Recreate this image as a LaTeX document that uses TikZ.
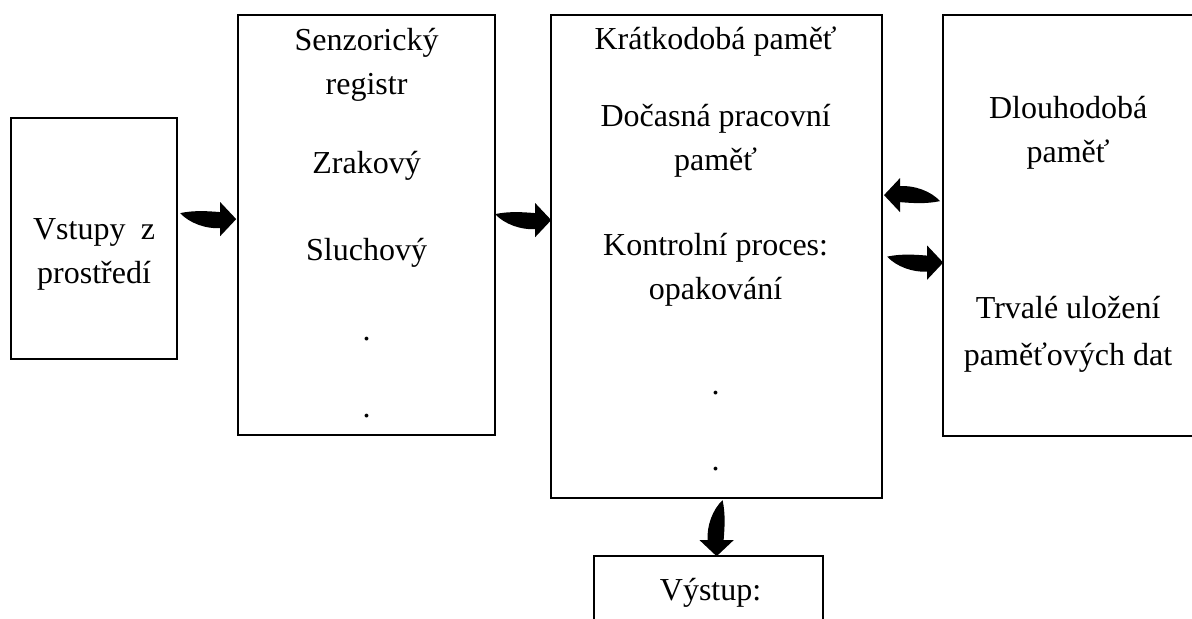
\documentclass[tikz,border=0pt]{standalone}
\usepackage{fontspec}
\setmainfont{Liberation Serif}
\usetikzlibrary{calc}
\newcommand{\spread}[3]{\hbox to #1{#2\hfill #3}}

\begin{document}
\begin{tikzpicture}[x=0.5pt, y=-0.5pt]
\tikzstyle{box}=[draw, line width=1.1pt, anchor=north west, inner sep=0pt]
\tikzstyle{txt}=[font=\fontsize{16}{20}\selectfont, inner sep=0pt, text height=0.7em, text depth=0.2em]
\tikzset{bentarrow/.pic={
  \fill (0,0) .. controls (14,-3) and (28,-2) .. (40,-1) -- (40,-11) -- (56,6)
    -- (40,23) -- (40,15) .. controls (26,16) and (9,10) .. cycle;
}}
\useasboundingbox (0,0) rectangle (1192,618);
% boxes
\node[box, minimum width=83pt, minimum height=120.5pt] (inp) at (10,117) {};
\node[box, minimum width=128.5pt, minimum height=210pt] (sen) at (237,14) {};
\node[box, minimum width=165.5pt, minimum height=241.5pt] (kp) at (550,14) {};
\node[box, minimum width=126pt, minimum height=210.5pt] (dp) at (942,14) {};
\node[box, minimum width=114.5pt, minimum height=45pt] (out) at (593,555) {};
% texts
\node[txt] (inp1) at ($(inp.north)+(0,117)$) {\spread{61pt}{Vstupy}{z}};
\node[txt] (inp2) at ($(inp.north)+(0,161)$) {prostředí};
\foreach \dy/\t [count=\i] in {31/Senzorický, 75/registr, 154/Zrakový, 241/Sluchový, 321/., 398/.}
  \node[txt] (sen\i) at ($(sen.north)+(0,\dy)$) {\t};
\foreach \dy/\t [count=\i] in {30/Krátkodobá paměť, 107/Dočasná pracovní, 151/paměť,
    236/Kontrolní proces:, 280/opakování, 375/., 451/.}
  \node[txt] (kp\i) at ($(kp.north)+(-1,\dy)$) {\t};
\foreach \dy/\t [count=\i] in {99/Dlouhodobá, 143/paměť, 299/Trvalé uložení, 346/paměťových dat}
  \node[txt] (dp\i) at ($(dp.north)+(-1,\dy)$) {\t};
\node[txt] (out1) at ($(out.north)+(2,40)$) {Výstup:};
% arrows
\pic at ($(inp.east)+(2,-25.5)$) {bentarrow};
\pic at ($(sen.east)+(-1,-11)$) {bentarrow};
\pic[rotate=180] at ($(dp.west)+(-2,-24.5)$) {bentarrow};
\pic at ($(kp.east)+(4,0)$) {bentarrow};
\pic[rotate=-90] at ($(kp.south)+(6,1)$) {bentarrow};
\end{tikzpicture}
\end{document}
